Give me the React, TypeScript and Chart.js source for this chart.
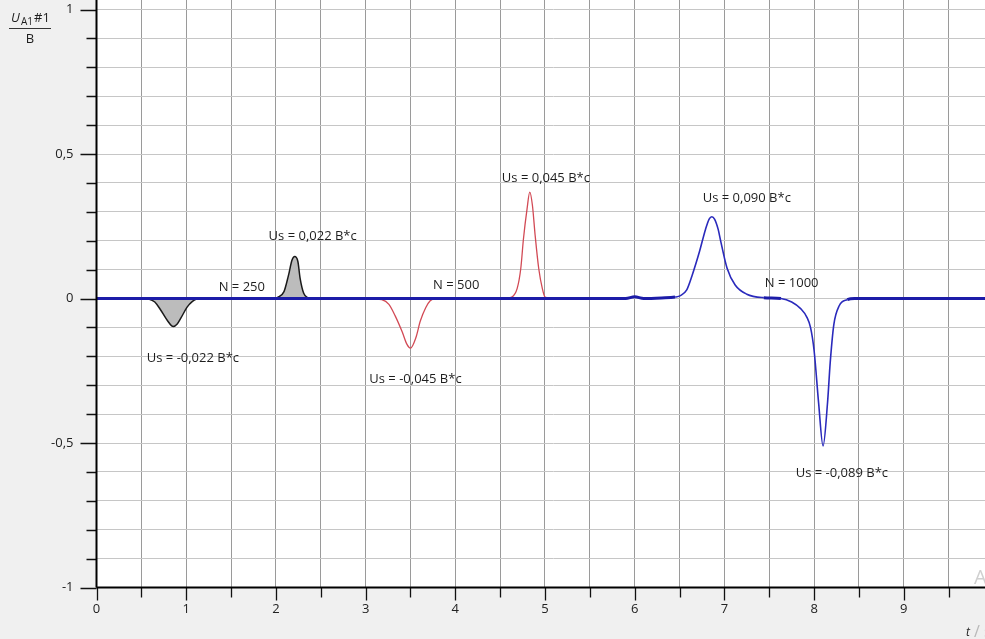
import React, { useEffect, useRef } from 'react';
import { Chart, registerables } from 'chart.js';

Chart.register(...registerables);

// N = 250 (gray, filled)
const t250 = [0.3, 0.5, 0.58, 0.65, 0.71, 0.79, 0.855, 0.9, 0.94, 1.01, 1.07, 1.12, 1.2, 1.6, 1.95, 2.02, 2.09, 2.14, 2.18, 2.21, 2.245, 2.27, 2.31, 2.35, 2.42, 2.6];
const u250 = [0, 0, -0.002, -0.012, -0.037, -0.076, -0.097, -0.088, -0.068, -0.03, -0.01, -0.002, 0, 0, 0, 0.004, 0.024, 0.08, 0.133, 0.145, 0.128, 0.07, 0.018, 0.004, 0, 0];

// N = 500 (red)
const t500 = [2.8, 3.03, 3.18, 3.26, 3.33, 3.41, 3.46, 3.5, 3.56, 3.61, 3.67, 3.72, 3.78, 4.2, 4.55, 4.63, 4.69, 4.73, 4.76, 4.8, 4.83, 4.86, 4.89, 4.93, 4.97, 5.0, 5.08, 5.3];
const u500 = [0, 0, -0.004, -0.02, -0.06, -0.117, -0.158, -0.172, -0.136, -0.078, -0.032, -0.008, 0, 0, 0, 0.005, 0.035, 0.104, 0.207, 0.31, 0.368, 0.322, 0.219, 0.104, 0.035, 0.005, 0, 0];

// N = 1000 (blue, whole trace)
const t1000 = [0, 1, 2, 3, 4, 5, 5.9, 6.0, 6.1, 6.3, 6.45, 6.51, 6.58, 6.64, 6.72, 6.79, 6.83, 6.86, 6.89, 6.93, 6.96, 7.03, 7.12, 7.25, 7.44, 7.63, 7.75, 7.85, 7.92, 7.96, 8.0, 8.05, 8.1, 8.15, 8.18, 8.22, 8.28, 8.37, 8.45, 9, 10, 10.3];
const u1000 = [0, 0, 0, 0, 0, 0, 0, 0.006, 0, 0.002, 0.005, 0.01, 0.03, 0.08, 0.16, 0.24, 0.275, 0.283, 0.275, 0.24, 0.197, 0.105, 0.047, 0.015, 0.003, 0, -0.012, -0.035, -0.065, -0.1, -0.18, -0.36, -0.51, -0.36, -0.22, -0.09, -0.025, -0.004, 0, 0, 0, 0];

// annotations
const labelText = ['N = 250', 'Us = 0,022 B*c', 'Us = -0,022 B*c', 'N = 500', 'Us = -0,045 B*c', 'Us = 0,045 B*c', 'Us = 0,090 B*c', 'N = 1000', 'Us = -0,089 B*c'];
const labelT = [1.62, 2.41, 1.075, 4.01, 3.556, 5.01, 7.25, 7.75, 8.31];
const labelU = [0.038, 0.214, -0.206, 0.045, -0.28, 0.415, 0.346, 0.053, -0.606];

// ticks
const xTickValues = [0, 0.5, 1, 1.5, 2, 2.5, 3, 3.5, 4, 4.5, 5, 5.5, 6, 6.5, 7, 7.5, 8, 8.5, 9, 9.5, 10];
const yTickValues = [-1, -0.9, -0.8, -0.7, -0.6, -0.5, -0.4, -0.3, -0.2, -0.1, 0, 0.1, 0.2, 0.3, 0.4, 0.5, 0.6, 0.7, 0.8, 0.9, 1];

const FONT = '"Open Sans", "Liberation Sans", Arial, sans-serif';

const pts = (t: number[], u: number[]) => t.map((x, i) => ({ x, y: u[i] }));

const isMajorY = (v: number) => Math.abs(v * 2 - Math.round(v * 2)) < 1e-6;
const isMajorX = (v: number) => Math.abs(v - Math.round(v)) < 1e-6;

const decor = {
  id: 'decor',
  beforeDraw(chart: any) {
    const { ctx, chartArea: ca, width, height } = chart;
    ctx.save();
    ctx.fillStyle = '#f0f0f0';
    ctx.fillRect(0, 0, width, height);
    ctx.fillStyle = '#ffffff';
    ctx.fillRect(ca.left, ca.top, ca.right - ca.left, ca.bottom - ca.top);
    ctx.restore();
  },
  afterDraw(chart: any) {
    const { ctx, chartArea: ca } = chart;
    const xs = chart.scales.x;
    const ys = chart.scales.y;
    ctx.save();
    // tick marks
    ctx.strokeStyle = '#111';
    ctx.lineWidth = 1.3;
    ctx.beginPath();
    yTickValues.forEach((v) => {
      const y = Math.round(ys.getPixelForValue(v)) + 0.5;
      const len = isMajorY(v) ? 16 : 10;
      ctx.moveTo(ca.left - len, y);
      ctx.lineTo(ca.left, y);
    });
    xTickValues.forEach((v) => {
      const x = Math.round(xs.getPixelForValue(v)) + 0.5;
      const len = isMajorX(v) ? 13 : 10;
      ctx.moveTo(x, ca.bottom);
      ctx.lineTo(x, ca.bottom + len);
    });
    ctx.stroke();
    // axis lines
    ctx.lineWidth = 2;
    ctx.strokeStyle = '#000';
    ctx.beginPath();
    ctx.moveTo(ca.left, ca.top);
    ctx.lineTo(ca.left, ca.bottom);
    ctx.moveTo(ca.left, ca.bottom);
    ctx.lineTo(ca.right, ca.bottom);
    ctx.stroke();

    // annotations
    ctx.fillStyle = '#1e1e1e';
    ctx.font = `13px ${FONT}`;
    ctx.textAlign = 'center';
    ctx.textBaseline = 'middle';
    labelText.forEach((s, i) => {
      ctx.fillText(s, xs.getPixelForValue(labelT[i]), ys.getPixelForValue(labelU[i]));
    });

    // y-axis title  U_A1#1 / B
    ctx.textAlign = 'left';
    ctx.textBaseline = 'alphabetic';
    ctx.fillStyle = '#1e1e1e';
    ctx.font = `italic 13px ${FONT}`;
    ctx.fillText('U', 11, 22);
    ctx.font = `10px ${FONT}`;
    ctx.fillText('A1', 21, 25);
    ctx.font = `13px ${FONT}`;
    ctx.fillText('#1', 34, 22);
    ctx.strokeStyle = '#333';
    ctx.lineWidth = 1;
    ctx.beginPath();
    ctx.moveTo(9, 28.5);
    ctx.lineTo(51, 28.5);
    ctx.stroke();
    ctx.textAlign = 'center';
    ctx.fillText('B', 30, 43);

    // x-axis title (clipped at the window edge)
    ctx.textAlign = 'left';
    ctx.font = `italic 12px ${FONT}`;
    ctx.fillStyle = '#1e1e1e';
    ctx.fillText('t', 966, 636);
    ctx.font = `16px ${FONT}`;
    ctx.fillStyle = '#b8b8b8';
    ctx.fillText('/ s', 974, 637);
    ctx.font = `20px ${FONT}`;
    ctx.fillStyle = '#d0d0d0';
    ctx.fillText('A', 974, 584);
    ctx.restore();
  },
};

export default function App() {
  const ref = useRef<HTMLCanvasElement>(null);
  useEffect(() => {
    if (!ref.current) return;
    const chart = new Chart(ref.current, {
      type: 'line',
      data: {
        datasets: [
          {
            label: 'N = 1000',
            data: pts(t1000, u1000),
            borderColor: '#2424b4',
            borderWidth: 1.6,
            pointRadius: 0,
            fill: false,
            cubicInterpolationMode: 'monotone',
            segment: {
              borderWidth: (c: any) =>
                Math.abs(c.p0.parsed.y) < 0.008 && Math.abs(c.p1.parsed.y) < 0.008 ? 3 : 1.6,
              borderColor: (c: any) =>
                Math.abs(c.p0.parsed.y) < 0.008 && Math.abs(c.p1.parsed.y) < 0.008 ? '#1c1ca8' : '#2a2abc',
            },
          } as any,
          {
            label: 'N = 500',
            data: pts(t500, u500),
            borderColor: '#d24a55',
            borderWidth: 1.3,
            pointRadius: 0,
            fill: false,
            cubicInterpolationMode: 'monotone',
          },
          {
            label: 'N = 250',
            data: pts(t250, u250),
            borderColor: '#1a1a1a',
            backgroundColor: '#bcbcbc',
            borderWidth: 1.5,
            pointRadius: 0,
            fill: 'origin',
            cubicInterpolationMode: 'monotone',
          },
        ],
      },
      options: {
        responsive: false,
        animation: false,
        layout: { padding: 0 },
        plugins: { legend: { display: false }, tooltip: { enabled: false } },
        scales: {
          x: {
            type: 'linear',
            min: 0,
            max: 10.184,
            afterBuildTicks: (s: any) => {
              s.ticks = xTickValues.map((value) => ({ value }));
            },
            afterFit: (s: any) => {
              s.height = 51.5;
              s.paddingLeft = 0;
              s.paddingRight = 0;
            },
            border: { display: false },
            grid: { color: '#9a9a9a', lineWidth: 1, drawTicks: false },
            ticks: {
              autoSkip: false,
              maxRotation: 0,
              padding: 14,
              color: '#222',
              font: { family: FONT, size: 13 },
              callback: (v: any) => (isMajorX(Number(v)) ? String(Math.round(Number(v))) : ''),
            },
          },
          y: {
            type: 'linear',
            min: -1,
            max: 1.033,
            afterBuildTicks: (s: any) => {
              s.ticks = yTickValues.map((value) => ({ value }));
            },
            afterFit: (s: any) => {
              s.width = 96.5;
              s.paddingTop = 0;
              s.paddingBottom = 0;
            },
            border: { display: false },
            grid: { color: '#c6c6c6', lineWidth: 1, drawTicks: false },
            ticks: {
              autoSkip: false,
              padding: 23,
              color: '#222',
              font: { family: FONT, size: 13 },
              callback: (v: any) => {
                const n = Number(v);
                if (!isMajorY(n)) return '';
                const r = Math.round(n * 2) / 2;
                return String(r).replace('.', ',');
              },
            },
          },
        },
      },
      plugins: [decor],
    });
    return () => chart.destroy();
  }, []);

  return (
    <div style={{ position: 'fixed', left: 0, top: 0, width: 985, height: 639, overflow: 'hidden', background: '#f0f0f0' }}>
      <canvas ref={ref} width={1010} height={639} style={{ display: 'block', width: 1010, height: 639 }} />
    </div>
  );
}
